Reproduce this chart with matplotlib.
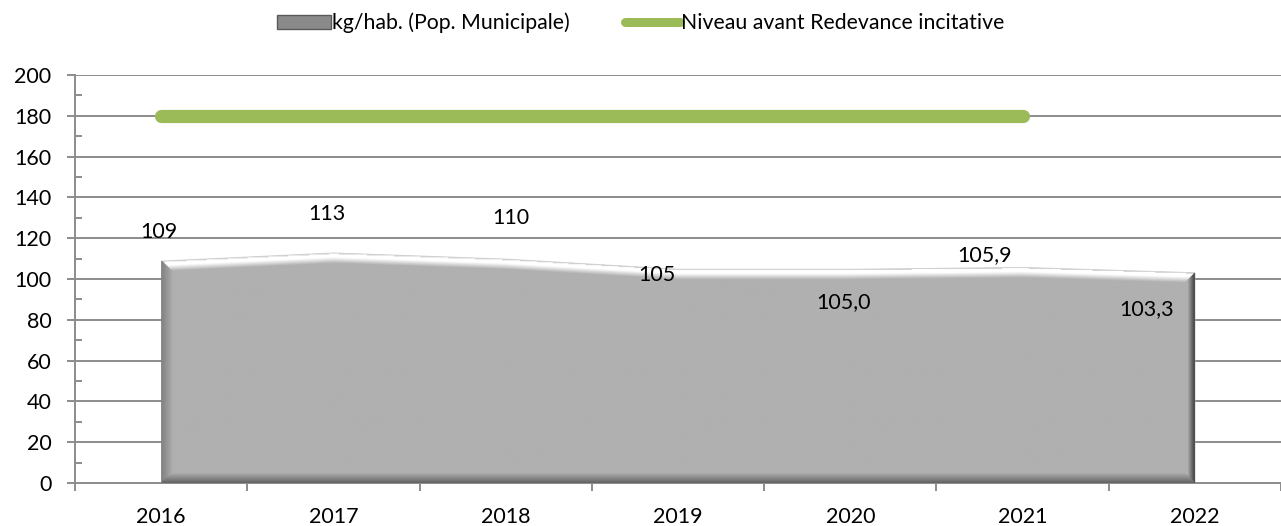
import numpy as np
import matplotlib.pyplot as plt
from matplotlib.patches import Patch
from matplotlib.lines import Line2D

# données
years = ["2016", "2017", "2018", "2019", "2020", "2021", "2022"]
kg_hab = [109, 113, 110, 105, 105.0, 105.9, 103.3]
labels = ["109", "113", "110", "105", "105,0", "105,9", "103,3"]
niveau_avant = [180, 180, 180, 180, 180, 180]

# placement des étiquettes (comme dans l'original)
label_y = [123, 132, 130, 102, 88.7, 111.8, 85.3]
label_dx = [-0.01, -0.04, 0.03, -0.12, -0.04, -0.22, -0.28]

plt.rcParams["font.family"] = ["Lato", "DejaVu Sans"]

W, H = 1281, 526
fig = plt.figure(figsize=(W / 100, H / 100), dpi=100)
ax = fig.add_axes([75 / W, 1 - 483 / H, 1 - 75 / W, 408 / H])

x = np.arange(len(years))
y = np.array(kg_hab)
px_x = 173.0          # pixels par catégorie
px_y = 408.0 / 200    # pixels par unité

# grille
for v in range(20, 201, 20):
    ax.axhline(v, color="#8c8c8c", lw=1.4, zorder=0)

# aire grise
poly = ax.fill_between(x, 0, y, color="#b0b0b0", zorder=2, lw=0)

# effet biseau : image clippée sur l'aire
nx, ny = 1040, 250
gx = np.linspace(x[0], x[-1], nx)
gy = np.linspace(0, 118, ny)
X, Y = np.meshgrid(gx, gy)
top = np.interp(X, x, y)
dl = (X - x[0]) * px_x
dr = (x[-1] - X) * px_x
db = Y * px_y
dt = (top - Y) * px_y
d = np.stack([dl, dr, db, dt])
which = np.argmin(d, axis=0)
dmin = d.min(axis=0)

shade = np.full(X.shape, 0.69)
s_left = 0.50 + 0.19 * np.clip(dmin / 12, 0, 1)
s_right = 0.26 + 0.43 * np.clip(dmin / 7, 0, 1)
s_bot = 0.40 + 0.29 * np.clip(dmin / 10, 0, 1)
s_top = np.where(dmin < 1.2, 0.82,
                 np.where(dmin < 4.5, 1.0,
                          1.0 - 0.31 * np.clip((dmin - 4.5) / 6, 0, 1)))
shade = np.where(which == 0, s_left, shade)
shade = np.where(which == 1, s_right, shade)
shade = np.where(which == 2, s_bot, shade)
shade = np.where(which == 3, s_top, shade)

img = ax.imshow(shade, extent=[x[0], x[-1], 0, 118], origin="lower", cmap="gray",
                vmin=0, vmax=1, aspect="auto", interpolation="bilinear", zorder=3)
img.set_clip_path(poly.get_paths()[0], transform=ax.transData)

# niveau avant redevance
ax.plot(x[:len(niveau_avant)], niveau_avant, color="#9bbb59", lw=9.5,
        solid_capstyle="round", zorder=5)

# étiquettes
for i, t in enumerate(labels):
    ax.text(x[i] + label_dx[i], label_y[i], t, ha="center", va="center",
            fontsize=15.5, zorder=6)

ax.set_ylim(0, 200)
ax.set_xlim(-0.5, 6.47)
ax.set_yticks(range(0, 201, 20))
ax.set_yticks(range(10, 200, 20), minor=True)
ax.tick_params(axis="y", which="major", direction="out", length=6, color="#8c8c8c",
               width=1.4, labelsize=15.5, pad=11)
ax.tick_params(axis="y", which="minor", direction="in", length=5, color="#8c8c8c", width=1.4)
ax.set_xticks(np.arange(-0.5, 7, 1), minor=True)
ax.set_xticks(x)
ax.set_xticklabels(years)
ax.tick_params(axis="x", which="major", length=0, labelsize=15.5, pad=17)
ax.tick_params(axis="x", which="minor", direction="out", length=6, color="#8c8c8c", width=1.4)

for s in ["top", "right"]:
    ax.spines[s].set_visible(False)
for s in ["left", "bottom"]:
    ax.spines[s].set_color("#8c8c8c")
    ax.spines[s].set_linewidth(1.4)

handles = [
    Patch(facecolor="#8a8a8a", edgecolor="#5a5a5a", label="kg/hab. (Pop. Municipale)"),
    Line2D([], [], color="#9bbb59", lw=6.5, solid_capstyle="round",
           label="Niveau avant Redevance incitative"),
]
fig.legend(handles=handles, loc="center", bbox_to_anchor=(0.5, 1 - 23 / H), ncol=2,
           frameon=False, fontsize=15.3, handlelength=2.55, handletextpad=0.05,
           columnspacing=2.6, handleheight=0.65, borderpad=0, borderaxespad=0)

fig.savefig("out.png", dpi=100)
